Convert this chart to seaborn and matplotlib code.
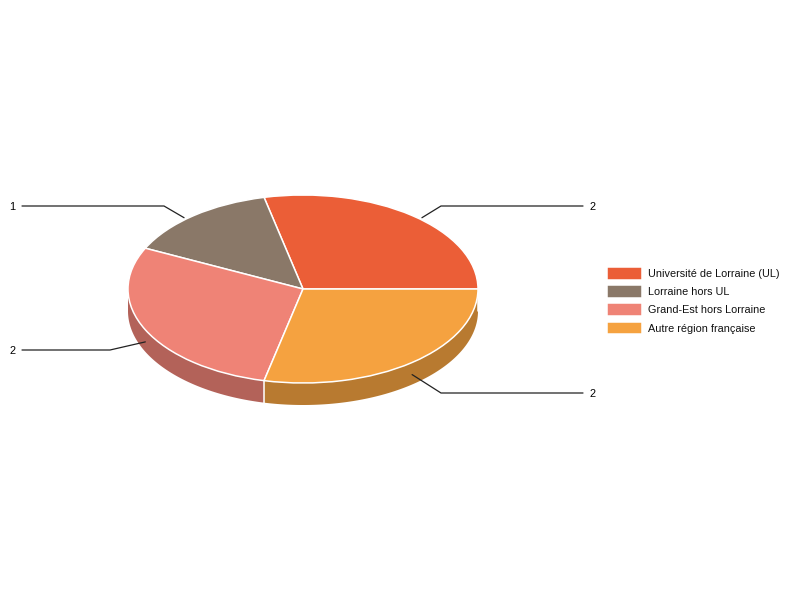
import matplotlib
matplotlib.use("Agg")
import matplotlib.pyplot as plt
import numpy as np
import seaborn as sns

# Data
categories = ["Université de Lorraine (UL)", "Lorraine hors UL", "Grand-Est hors Lorraine", "Autre région française"]
values = [2, 1, 2, 2]
top_colors = ["#EB5E37", "#8A7868", "#EF8376", "#F5A240"]

# Pie geometry in pixels
WIDTH, HEIGHT = 800, 600
CX, CY = 303, 289
RX, RY = 175, 94
DEPTH = 22


def px(x, y):
    # pixel position (from top left) to data units of the pie axes
    return (x - CX) / RX, (CY - y) / RY


sns.set_theme(style="white")
plt.rcParams["font.family"] = ["Liberation Sans", "DejaVu Sans"]
palette = sns.color_palette(top_colors)
side_colors = [tuple(c * 0.75 for c in col) for col in palette]

fig = plt.figure(figsize=(WIDTH / 100, HEIGHT / 100), dpi=100)
ax = fig.add_axes([0, 0, 1, 1])

# Angles of the slices, counter clockwise from 3 o'clock
edges = np.cumsum([0] + values) / sum(values) * 360
mids = (edges[:-1] + edges[1:]) / 2
depth = DEPTH / RY

# Side walls, only the front half of the disc shows
for start, end, col in zip(edges[:-1], edges[1:], side_colors):
    lo, hi = max(start, 180), end
    if hi <= lo:
        continue
    theta = np.radians(np.linspace(lo, hi, 120))
    xs = np.cos(theta)
    ys = np.sin(theta)
    ax.fill(np.r_[xs, xs[::-1]], np.r_[ys, ys[::-1] - depth], color=col, lw=0, zorder=1)

for angle in edges[1:]:
    if angle >= 180:
        x = np.cos(np.radians(angle))
        y = np.sin(np.radians(angle))
        ax.plot([x, x], [y, y - depth], color="white", lw=1.1, zorder=2)

wedges, _ = ax.pie(values, colors=palette, startangle=0, counterclock=True,
                   wedgeprops=dict(edgecolor="white", linewidth=1.1, zorder=3))

# Leader lines: (row y, elbow x, end x, label x) for each slice
rows = [(206, 441, 583, 589), (206, 164, 22, 9.5), (350, 110, 22, 9.5), (393, 441, 583, 589)]
for val, mid, (row, elbow, end, text_x) in zip(values, mids, rows):
    c, s = np.cos(np.radians(mid)), np.sin(np.radians(mid))
    if s > 0:
        start = (1.09 * c, 0.97 * s)
    else:
        start = (c, s - depth * 0.55)
    corner = px(elbow, row)
    stop = px(end, row)
    ax.plot([start[0], corner[0], stop[0]], [start[1], corner[1], stop[1]],
            color="#222222", lw=0.9, zorder=4, solid_joinstyle="miter")
    tx, ty = px(text_x, row + 1)
    ax.text(tx, ty, str(val), fontsize=7.9, color="black", ha="left", va="center")

ax.set_aspect("auto")
ax.set_xlim(px(0, 0)[0], px(WIDTH, 0)[0])
ax.set_ylim(px(0, HEIGHT)[1], px(0, 0)[1])
ax.axis("off")

ax.legend(wedges, categories, loc="upper left", bbox_to_anchor=(607 / WIDTH, 1 - 267 / HEIGHT),
          bbox_transform=fig.transFigure, frameon=False, fontsize=7.85, borderpad=0, borderaxespad=0,
          handlelength=3.2, handleheight=1.41, handletextpad=0.58, labelspacing=0.51,
          labelcolor="#111111")

plt.savefig("out.png", dpi=100)
